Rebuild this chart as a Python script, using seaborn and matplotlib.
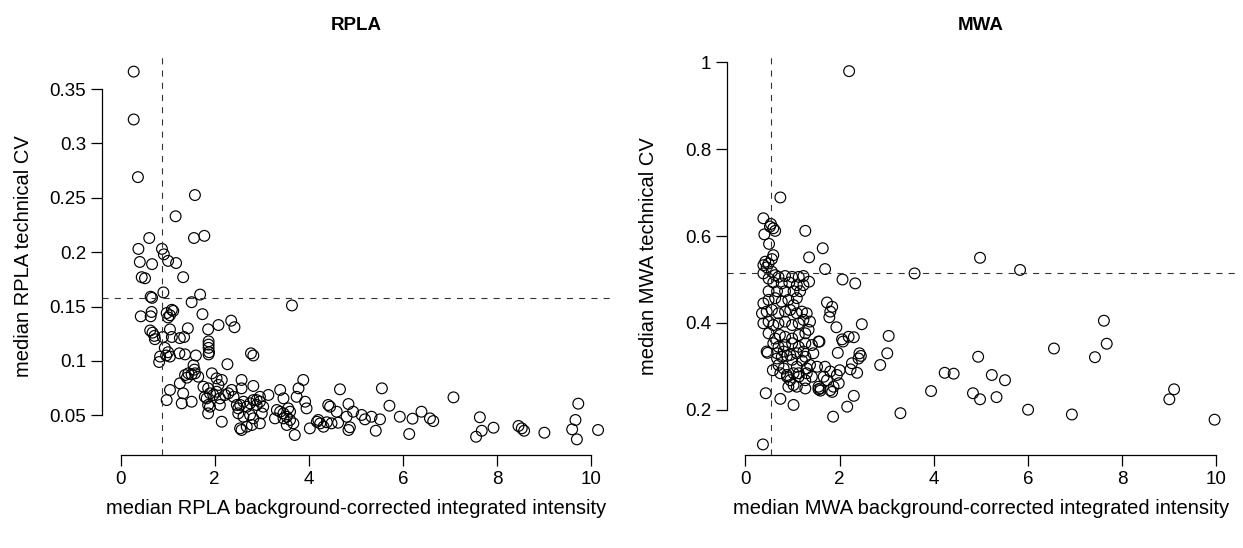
import numpy as np
import pandas as pd
import seaborn as sns
import matplotlib.pyplot as plt

# RPLA: median background-corrected intensity vs median technical CV
rpla_x = [0.28, 0.28, 0.37, 1.58, 1.17, 0.61, 1.56, 1.78, 0.38, 0.88,
          0.92, 1.01, 0.41, 0.67, 1.18, 0.45, 0.52, 1.33, 0.91, 0.64,
          0.67, 1.69, 1.51, 3.64, 0.43, 0.64, 0.66, 0.98, 1.09, 1.12,
          1.05, 1.01, 1.74, 2.35, 2.42, 2.08, 1.86, 1.43, 0.63, 0.68,
          0.72, 0.73, 0.90, 1.05, 1.09, 1.26, 1.35, 1.87, 1.87, 1.87,
          1.88, 1.87, 0.94, 1.01, 1.05, 0.97, 0.84, 0.82, 1.25, 1.37,
          1.60, 2.77, 2.82, 2.27, 1.55, 1.57,
          1.37, 1.44, 1.51, 1.58, 1.65, 1.41, 1.94, 2.04, 2.15, 2.08,
          2.57, 2.82, 2.57, 3.88, 3.78, 3.39, 3.14, 2.96, 2.89, 3.46,
          1.05, 1.26, 1.33, 0.98, 1.30, 1.51, 1.76, 1.86, 1.90, 1.79,
          1.83, 1.97, 2.04, 2.11, 2.22, 2.29, 2.36, 1.86, 1.90, 2.11,
          1.86, 2.15, 2.40, 2.47, 2.50, 2.54, 2.61, 2.68, 2.75, 2.82,
          2.89, 2.96, 3.03, 3.00, 2.50, 2.61, 2.75, 2.82, 2.96, 2.79,
          2.68, 2.57, 2.54, 3.32, 3.39, 3.46, 3.56, 3.60, 3.53, 3.60,
          3.67, 3.53, 3.70, 3.46, 3.28, 3.74, 3.92, 3.95,
          4.66, 5.55, 7.07, 4.41, 4.45, 4.84, 4.59, 4.94, 5.12, 5.19,
          5.33, 5.51, 5.71, 5.93, 6.20, 6.39, 6.57, 6.64, 6.13, 5.42,
          4.87, 4.84, 4.17, 4.24, 4.31, 4.38, 4.48, 4.62, 4.80, 4.02,
          4.20, 7.63, 7.67, 7.55, 7.92, 8.45, 8.52, 8.57, 9.00, 9.72,
          9.66, 9.59, 9.69, 10.14]
rpla_cv = [0.366, 0.322, 0.269, 0.2525, 0.233, 0.213, 0.213, 0.215, 0.203, 0.203,
           0.198, 0.192, 0.191, 0.189, 0.190, 0.177, 0.176, 0.177, 0.163, 0.159,
           0.158, 0.161, 0.154, 0.151, 0.141, 0.141, 0.145, 0.144, 0.147, 0.146,
           0.142, 0.140, 0.143, 0.137, 0.131, 0.133, 0.129, 0.130, 0.128, 0.126,
           0.123, 0.120, 0.122, 0.129, 0.122, 0.121, 0.122, 0.118, 0.115, 0.112,
           0.108, 0.106, 0.112, 0.108, 0.104, 0.105, 0.104, 0.099, 0.107, 0.106,
           0.105, 0.107, 0.105, 0.097, 0.096, 0.092,
           0.087, 0.0886, 0.0877, 0.0886, 0.0855, 0.0846, 0.0886, 0.084, 0.0825, 0.0779,
           0.0825, 0.077, 0.0748, 0.0825, 0.0748, 0.0733, 0.0687, 0.067, 0.064, 0.0656,
           0.0733, 0.0794, 0.0702, 0.064, 0.061, 0.0625, 0.0763, 0.0748, 0.0702, 0.067,
           0.0656, 0.0687, 0.0717, 0.0656, 0.0687, 0.0702, 0.0733, 0.0595, 0.0579, 0.0595,
           0.0518, 0.0441, 0.067, 0.0595, 0.0564, 0.0595, 0.0625, 0.0579, 0.061, 0.064,
           0.0595, 0.0625, 0.0579, 0.0518, 0.0518, 0.0487, 0.0503, 0.0472, 0.0426, 0.0411,
           0.0395, 0.0365, 0.038, 0.0549, 0.0533, 0.0518, 0.0564, 0.0533, 0.0487, 0.0457,
           0.0426, 0.0411, 0.0319, 0.0472, 0.0472, 0.067, 0.0625, 0.0564,
           0.0739, 0.0748, 0.0665, 0.0595, 0.0579, 0.0604, 0.0533, 0.0533, 0.0503, 0.0463,
           0.0487, 0.0463, 0.0588, 0.0487, 0.0469, 0.0533, 0.0472, 0.0447, 0.0328, 0.0358,
           0.039, 0.0365, 0.0441, 0.0426, 0.0395, 0.0436, 0.0426, 0.0432, 0.0487, 0.038,
           0.0457, 0.0482, 0.0358, 0.0303, 0.0386, 0.0402, 0.038, 0.0358, 0.034, 0.0607,
           0.0457, 0.0371, 0.0279, 0.0365]

# MWA
mwa_x = [2.20, 0.74, 0.38, 0.54, 0.59, 0.63, 0.52, 0.40, 1.27, 0.50,
         1.64, 1.35, 0.59, 0.56, 0.42, 0.49, 0.38, 0.45, 1.69, 2.06,
         2.33, 0.38, 0.56, 0.63, 0.70, 0.84, 0.99, 1.13, 1.23, 1.35,
         0.49, 0.59, 0.77, 0.93, 1.09, 1.23, 4.98, 3.59, 5.83, 3.29,
         3.94, 4.23, 4.42, 4.94, 4.83, 4.98, 5.23, 5.51, 5.33, 6.00,
         6.55, 6.93, 7.42, 7.61, 7.67, 9.10, 9.00, 9.96, 1.73, 1.84,
         1.80, 1.78, 1.93, 2.47, 3.04, 2.05, 2.19, 2.30, 2.07, 1.96,
         2.42, 2.45, 2.40, 3.01, 2.86, 2.26, 2.37, 2.23, 2.30, 2.16,
         1.86, 2.00, 1.94, 1.98, 1.87, 1.80, 1.59, 1.55, 1.73, 1.66,
         1.80, 1.57, 1.44, 1.52, 1.37, 1.30, 1.41, 1.27, 1.13, 1.09,
         1.27, 1.02, 0.91, 0.88, 0.81, 0.74, 0.43, 0.74, 1.02, 0.58,
         0.47, 0.37,
         0.49, 0.67, 0.84, 1.02, 1.16, 0.38, 0.49, 0.63, 0.77, 0.91,
         1.09, 1.02, 0.35, 0.45, 0.56, 0.70, 0.84, 0.95, 1.09, 1.20,
         1.30, 1.23, 0.38, 0.49, 0.59, 0.70, 0.84, 0.99, 1.13, 1.37,
         1.34, 0.49, 0.63, 0.73, 0.84, 0.99, 1.13, 1.27, 0.59, 0.70,
         0.84, 0.99, 1.13, 1.27, 1.41, 1.55, 0.45, 0.67, 0.81, 0.95,
         1.09, 1.23,
         0.70, 0.88, 0.95, 1.09, 1.13, 1.30, 1.69, 1.55, 1.59, 1.84,
         1.20, 1.27, 0.67, 0.77, 0.88, 0.99, 1.02]
mwa_cv = [0.980, 0.689, 0.641, 0.628, 0.618, 0.612, 0.622, 0.604, 0.612, 0.582,
          0.572, 0.551, 0.556, 0.547, 0.541, 0.537, 0.533, 0.528, 0.524, 0.500,
          0.491, 0.514, 0.518, 0.510, 0.506, 0.508, 0.506, 0.506, 0.508, 0.495,
          0.502, 0.493, 0.491, 0.493, 0.487, 0.487, 0.550, 0.514, 0.522, 0.192,
          0.243, 0.285, 0.283, 0.322, 0.238, 0.224, 0.280, 0.268, 0.229, 0.200,
          0.341, 0.189, 0.321, 0.405, 0.352, 0.247, 0.224, 0.177, 0.447, 0.437,
          0.426, 0.413, 0.390, 0.397, 0.370, 0.362, 0.368, 0.367, 0.357, 0.331,
          0.330, 0.324, 0.318, 0.330, 0.303, 0.307, 0.285, 0.293, 0.232, 0.207,
          0.184, 0.291, 0.280, 0.261, 0.253, 0.245, 0.249, 0.253, 0.268, 0.276,
          0.288, 0.357, 0.330, 0.299, 0.303, 0.284, 0.276, 0.268, 0.276, 0.253,
          0.249, 0.257, 0.253, 0.276, 0.295, 0.284, 0.238, 0.225, 0.211, 0.291,
          0.331, 0.120,
          0.473, 0.473, 0.473, 0.473, 0.473, 0.445, 0.453, 0.457, 0.449, 0.453,
          0.457, 0.441, 0.422, 0.426, 0.430, 0.422, 0.426, 0.430, 0.422, 0.426,
          0.422, 0.407, 0.399, 0.403, 0.395, 0.399, 0.403, 0.395, 0.399, 0.403,
          0.384, 0.376, 0.364, 0.372, 0.368, 0.364, 0.372, 0.376, 0.353, 0.345,
          0.349, 0.353, 0.345, 0.353, 0.349, 0.357, 0.334, 0.330, 0.334, 0.326,
          0.330, 0.334,
          0.303, 0.280, 0.268, 0.299, 0.284, 0.295, 0.299, 0.247, 0.244, 0.241,
          0.313, 0.322, 0.318, 0.322, 0.324, 0.315, 0.284]

# progi (linie przerywane)
rpla_cut = (0.88, 0.158)
mwa_cut = (0.54, 0.516)

rpla_yticks = [0.05, 0.1, 0.15, 0.2, 0.25, 0.3, 0.35]
rpla_ylabels = ["0.05", "0.1", "0.15", "0.2", "0.25", "0.3", "0.35"]
mwa_yticks = [0.2, 0.4, 0.6, 0.8, 1.0]
mwa_ylabels = ["0.2", "0.4", "0.6", "0.8", "1"]
xticks = [0, 2, 4, 6, 8, 10]

sns.set_style("ticks")
plt.rcParams['font.family'] = ['Liberation Sans', 'DejaVu Sans']
plt.rcParams['font.size'] = 13.5
plt.rcParams.update({
    'text.color': 'black',
    'axes.labelcolor': 'black',
    'axes.edgecolor': 'black',
    'xtick.color': 'black',
    'ytick.color': 'black',
})


def draw_panel(ax, x, y, cut, yticks, ylabels, ylim, name):
    df = pd.DataFrame({"x": x, "y": y})
    sns.scatterplot(data=df, x="x", y="y", ax=ax, marker="o", s=60,
                    facecolors="none", edgecolor="black", linewidth=0.85)
    ax.axvline(cut[0], color="#333333", lw=0.8, ls=(0, (5.5, 5.5)))
    ax.axhline(cut[1], color="#333333", lw=0.8, ls=(0, (5.5, 5.5)))

    ax.set_xlim(-0.4, 10.4)
    ax.set_ylim(*ylim)
    ax.set_xticks(xticks)
    ax.set_xticklabels([str(t) for t in xticks])
    ax.set_yticks(yticks)
    ax.set_yticklabels(ylabels)

    sns.despine(ax=ax)
    ax.spines["left"].set_bounds(yticks[0], yticks[-1])
    ax.spines["bottom"].set_bounds(0, 10)
    for s in ("left", "bottom"):
        ax.spines[s].set_linewidth(0.9)
    ax.tick_params(direction="out", length=7.7, width=0.9, labelsize=13.5)
    ax.tick_params(axis="x", pad=4)
    ax.tick_params(axis="y", pad=3.5)

    ax.set_xlabel(f"median {name} background-corrected integrated intensity", fontsize=14.5)
    ax.set_ylabel(f"median {name} technical CV", fontsize=14.5)
    ax.xaxis.set_label_coords(0.5, -0.11)
    ax.yaxis.set_label_coords(-0.135, 0.5)
    ax.set_title(name, fontsize=13.5, fontweight="bold", pad=19)


fig = plt.figure(figsize=(12.43, 5.48), dpi=100)
ax1 = fig.add_axes([0.0818, 0.1695, 0.4092, 0.7276])
ax2 = fig.add_axes([0.5846, 0.1695, 0.4092, 0.7276])

draw_panel(ax1, rpla_x, rpla_cv, rpla_cut, rpla_yticks, rpla_ylabels, (0.0134, 0.380), "RPLA")
draw_panel(ax2, mwa_x, mwa_cv, mwa_cut, mwa_yticks, mwa_ylabels, (0.0954, 1.014), "MWA")

fig.savefig("out.png", dpi=100)
